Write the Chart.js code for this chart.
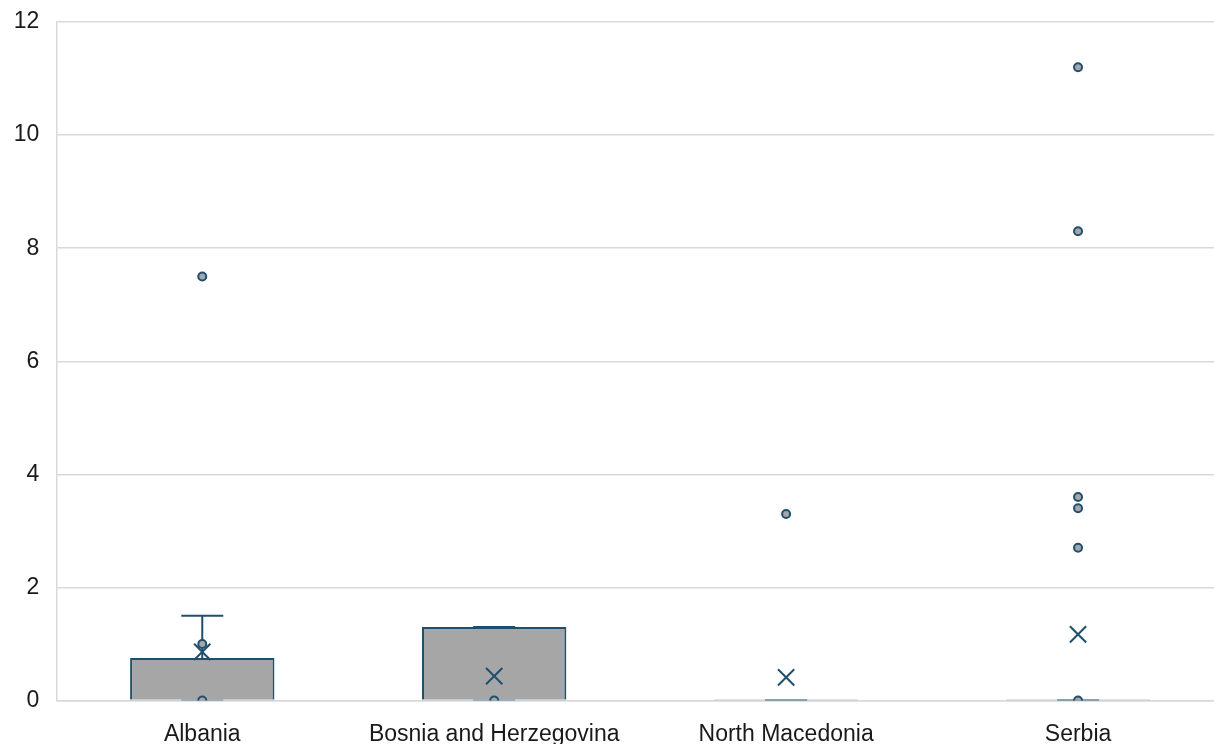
<!DOCTYPE html>
<html>
<head>
<meta charset="utf-8">
<script src="https://cdn.jsdelivr.net/npm/chart.js@4/dist/chart.umd.min.js"></script>
<style>
  html, body { margin: 0; padding: 0; background: #ffffff; overflow: hidden; }
  #wrap { position: relative; width: 1224px; height: 744px; }
</style>
</head>
<body>
<div id="wrap"><canvas id="c"></canvas></div>
<script>
// ---- data ----
const categories = ['Albania', 'Bosnia and Herzegovina', 'North Macedonia', 'Serbia'];
const q1Values = [0, 0, 0, 0];
const q3Values = [0.75, 1.3, 0, 0];
const medianValues = [0, 0, 0, 0];
const whiskerLow = [0, 0, 0, 0];
const whiskerHigh = [1.5, 1.3, 0, 0];
const meanValues = [0.86, 0.43, 0.41, 1.17];
const pointsAlbania = [7.5, 1.0, 0];
const pointsBosnia = [0];
const pointsNorthMacedonia = [3.3];
const pointsSerbia = [11.2, 8.3, 3.6, 3.4, 2.7, 0];
const yTicks = [0, 2, 4, 6, 8, 10, 12];

const pointsByCategory = [pointsAlbania, pointsBosnia, pointsNorthMacedonia, pointsSerbia];

const DARK = '#1f4f6d';
const GRID = '#d9d9d9';
const FONT = "'Liberation Sans', Arial, sans-serif";

// whisker vertical stems (one line dataset per category)
const whiskerSets = categories.map((c, i) => ({
  type: 'line',
  data: [{ x: c, y: q3Values[i] }, { x: c, y: whiskerHigh[i] }],
  borderColor: DARK,
  borderWidth: 2,
  pointRadius: 0,
  fill: false,
  order: 5
}));

const capData = [];
categories.forEach((c, i) => {
  capData.push({ x: c, y: whiskerHigh[i] });
  capData.push({ x: c, y: whiskerLow[i] });
});

const pointData = [];
categories.forEach((c, i) => {
  pointsByCategory[i].forEach(v => pointData.push({ x: c, y: v }));
});

const chart = new Chart(document.getElementById('c'), {
  type: 'bar',
  data: {
    labels: categories,
    datasets: [
      {
        type: 'bar',
        data: categories.map((c, i) => [q1Values[i], q3Values[i]]),
        backgroundColor: '#a6a6a6',
        borderColor: DARK,
        borderWidth: 2,
        borderSkipped: 'start',
        barPercentage: 0.4945,
        categoryPercentage: 1,
        order: 10
      },
      ...whiskerSets,
      {
        type: 'line',
        data: capData,
        showLine: false,
        pointStyle: 'line',
        pointRadius: 21,
        pointBorderWidth: 2,
        pointBorderColor: DARK,
        borderColor: DARK,
        order: 4
      },
      {
        type: 'line',
        data: categories.map((c, i) => ({ x: c, y: medianValues[i] })),
        showLine: false,
        pointStyle: 'line',
        pointRadius: 72,
        pointBorderWidth: 2,
        pointBorderColor: '#c2ccd3',
        borderColor: '#c2ccd3',
        order: 3
      },
      {
        type: 'line',
        data: pointData,
        showLine: false,
        pointStyle: 'circle',
        pointRadius: 4,
        pointBorderWidth: 2,
        pointBackgroundColor: '#a3a7aa',
        pointBorderColor: DARK,
        clip: 0,
        order: 2
      },
      {
        type: 'line',
        data: categories.map((c, i) => ({ x: c, y: meanValues[i] })),
        showLine: false,
        pointStyle: 'crossRot',
        pointRadius: 11.5,
        pointBorderWidth: 2,
        pointBorderColor: DARK,
        borderColor: DARK,
        order: 1
      }
    ]
  },
  options: {
    responsive: true,
    maintainAspectRatio: false,
    animation: false,
    events: [],
    layout: { autoPadding: false, padding: { top: 22, right: 0, bottom: 0, left: 0 } },
    plugins: { legend: { display: false }, tooltip: { enabled: false } },
    scales: {
      x: {
        type: 'category',
        offset: true,
        afterFit: (s) => { s.height = 43.5; s.paddingLeft = 0; s.paddingRight = 0; },
        grid: { display: false, drawTicks: false },
        border: { display: true, color: GRID, width: 1.5 },
        ticks: {
          color: '#1a1a1a',
          font: { family: FONT, size: 23 },
          padding: 20,
          maxRotation: 0,
          autoSkip: false
        }
      },
      y: {
        min: yTicks[0],
        max: yTicks[yTicks.length - 1],
        afterFit: (s) => { s.width = 56.3; s.paddingTop = 0; s.paddingBottom = 0; },
        afterBuildTicks: (s) => { s.ticks = yTicks.map(v => ({ value: v })); },
        grid: { color: GRID, lineWidth: 1.5, drawTicks: false },
        border: { display: true, color: GRID, width: 1.5 },
        ticks: {
          color: '#1a1a1a',
          font: { family: FONT, size: 23 },
          padding: 17
        }
      }
    }
  }
});
</script>
</body>
</html>
